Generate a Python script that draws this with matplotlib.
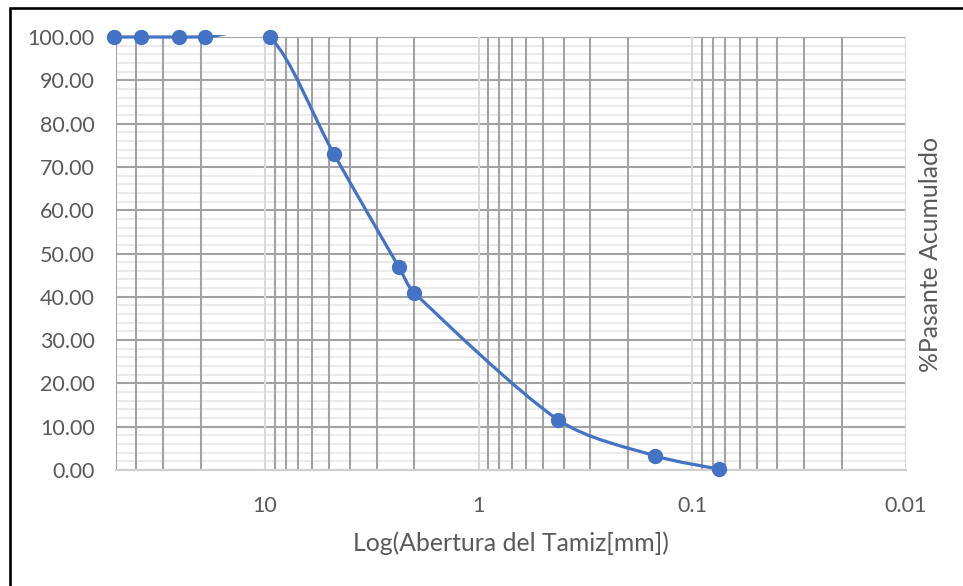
import matplotlib
matplotlib.use("Agg")
import matplotlib.pyplot as plt
import numpy as np
from matplotlib.path import Path
from matplotlib.patches import PathPatch, Rectangle
from matplotlib.ticker import LogLocator, NullFormatter, FuncFormatter, MultipleLocator
from matplotlib.transforms import Bbox, TransformedBbox

plt.rcParams['font.family'] = ['Lato', 'DejaVu Sans']

# sieve openings (mm) and cumulative % passing
abertura = [50.8, 38.1, 25.4, 19.05, 9.525, 4.75, 2.36, 2.00, 0.425, 0.150, 0.075]
pasante = [100.0, 100.0, 100.0, 100.0, 100.0, 72.9, 46.8, 40.9, 11.6, 3.3, 0.2]

blue = "#4472C4"
txt = "#595959"

fig = plt.figure(figsize=(9.63, 5.86), dpi=100)
ax = fig.add_axes([115.7 / 963, 116 / 586, 790.3 / 963, 433 / 586])

ax.set_xscale("log")
ax.set_xlim(50, 0.01)
ax.set_ylim(0, 100)

ax.xaxis.set_major_locator(LogLocator(base=10, numticks=10))
ax.xaxis.set_minor_locator(LogLocator(base=10, subs=np.arange(2, 10), numticks=20))
ax.xaxis.set_minor_formatter(NullFormatter())
ax.xaxis.set_major_formatter(FuncFormatter(lambda v, p: "{:g}".format(v)))
ax.yaxis.set_major_locator(MultipleLocator(10))
ax.yaxis.set_minor_locator(MultipleLocator(2))
ax.yaxis.set_major_formatter(FuncFormatter(lambda v, p: "{:.2f}".format(v)))

ax.set_axisbelow(True)
ax.grid(True, axis="y", which="minor", color="#EBEBEB", lw=1.4)
ax.grid(True, axis="y", which="major", color="#A3A3A3", lw=1.5)
ax.grid(True, axis="x", which="minor", color="#A3A3A3", lw=1.5)
ax.grid(True, axis="x", which="major", color="#D9D9D9", lw=1.5)
# vertical lines sit above the light horizontal minor lines
ax.yaxis.set_zorder(0.4)
ax.xaxis.set_zorder(0.6)

for s in ["top", "left", "right"]:
    ax.spines[s].set_visible(False)
ax.spines["bottom"].set_color("#D0D0D0")
ax.spines["bottom"].set_linewidth(1.5)

ax.tick_params(which="both", length=0)
ax.tick_params(axis="y", labelsize=15.5, labelcolor=txt, pad=15)
ax.tick_params(axis="x", labelsize=15.5, labelcolor=txt, pad=19)

# smoothed line (Bezier through the points, computed in display space,
# control arms limited so short segments do not loop)
P = ax.transData.transform(np.column_stack([abertura, pasante]))
n = len(P)
verts = [P[0]]
codes = [Path.MOVETO]
for i in range(n - 1):
    p0 = P[max(i - 1, 0)]
    p1 = P[i]
    p2 = P[i + 1]
    p3 = P[min(i + 2, n - 1)]
    seg = np.hypot(*(p2 - p1))
    d1 = (p2 - p0) / 6.0
    d2 = (p3 - p1) / 6.0
    for d in (d1, d2):
        L = np.hypot(*d)
        if L > seg / 3.0 and L > 0:
            d *= (seg / 3.0) / L
    verts += [p1 + d1, p2 - d2, p2]
    codes += [Path.CURVE4] * 3
verts = ax.transData.inverted().transform(np.array(verts))
curve = PathPatch(Path(verts, codes), facecolor="none", edgecolor=blue, lw=2.3,
                  capstyle="round", joinstyle="round", zorder=3)
ax.add_patch(curve)
curve.set_clip_box(TransformedBbox(Bbox([[-0.01, -0.01], [1.01, 1.004]]), ax.transAxes))

ax.plot(abertura, pasante, ls="none", marker="o", ms=10, color=blue, zorder=4, clip_on=False)

ax.set_xlabel("Log(Abertura del Tamiz[mm])", fontsize=17.8, color=txt)
ax.xaxis.set_label_coords(0.5, -(543 - 470) / 433)
ax.xaxis.label.set_verticalalignment("center")

fig.text(930 / 963, 1 - 255 / 586, "%Pasante Acumulado", rotation=90,
         ha="center", va="center", fontsize=17.8, color=txt)

# outer chart frame (only left and top edges visible in the crop)
fig.add_artist(Rectangle((9.5 / 963, -0.5), 2, 1.5 - 8.3 / 586, fill=False,
                         edgecolor="black", lw=1.9, transform=fig.transFigure, clip_on=False))

fig.savefig("out.png", dpi=100)
